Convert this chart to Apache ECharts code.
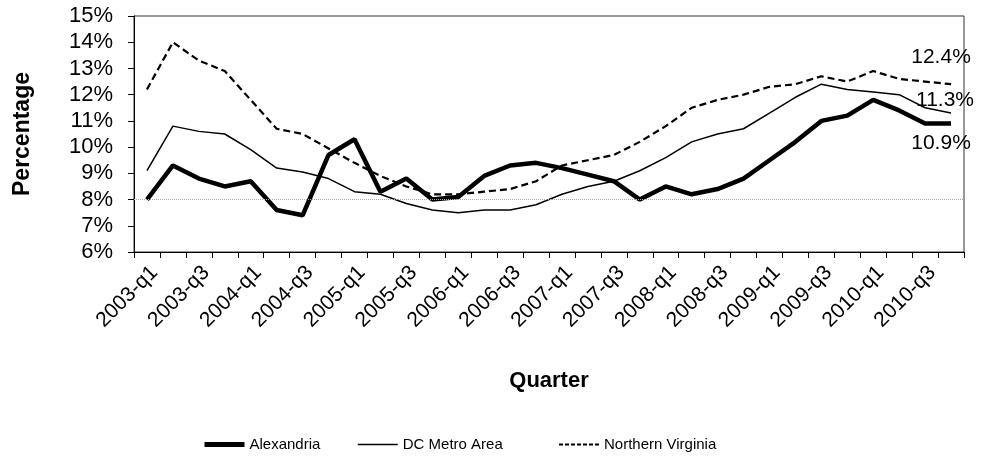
<!DOCTYPE html>
<html>
<head>
<meta charset="utf-8">
<script src="https://cdn.jsdelivr.net/npm/echarts@6/dist/echarts.min.js"></script>
<style>
  html, body { margin: 0; padding: 0; background: #fff; }
  #chart { width: 989px; height: 462px; }
</style>
</head>
<body>
<div id="chart"></div>
<script>
// Quarterly rates, 2003-q1 .. 2010-q4
const quarters = [
  '2003-q1','2003-q2','2003-q3','2003-q4',
  '2004-q1','2004-q2','2004-q3','2004-q4',
  '2005-q1','2005-q2','2005-q3','2005-q4',
  '2006-q1','2006-q2','2006-q3','2006-q4',
  '2007-q1','2007-q2','2007-q3','2007-q4',
  '2008-q1','2008-q2','2008-q3','2008-q4',
  '2009-q1','2009-q2','2009-q3','2009-q4',
  '2010-q1','2010-q2','2010-q3','2010-q4'
];

const alexandria = [
  8.0, 9.3, 8.8, 8.5,
  8.7, 7.6, 7.4, 9.7,
  10.3, 8.3, 8.8, 8.0,
  8.1, 8.9, 9.3, 9.4,
  9.2, 8.95, 8.7, 8.0,
  8.5, 8.2, 8.4, 8.8,
  9.5, 10.2, 11.0, 11.2,
  11.8, 11.4, 10.9, 10.9
];

const dcMetro = [
  9.1, 10.8, 10.6, 10.5,
  9.9, 9.2, 9.05, 8.8,
  8.3, 8.2, 7.85, 7.6,
  7.5, 7.6, 7.6, 7.8,
  8.2, 8.5, 8.7, 9.1,
  9.6, 10.2, 10.5, 10.7,
  11.3, 11.9, 12.4, 12.2,
  12.1, 12.0, 11.5, 11.3
];

const northernVirginia = [
  12.2, 14.0, 13.3, 12.9,
  11.8, 10.7, 10.5, 9.95,
  9.4, 8.9, 8.5, 8.2,
  8.2, 8.3, 8.4, 8.7,
  9.3, 9.5, 9.7, 10.2,
  10.8, 11.5, 11.8, 12.0,
  12.3, 12.4, 12.7, 12.5,
  12.9, 12.6, 12.5, 12.4
];

const yTicks = { min: 6, max: 15, step: 1 };
const FONT = '"Liberation Sans", Arial, sans-serif';

// value label placed next to the last point of a line
function endLabel(offset) {
  return {
    show: true, distance: 0, align: 'center', verticalAlign: 'middle', offset: offset,
    formatter: p => Number(p.value).toFixed(1) + '%',
    fontFamily: FONT, fontSize: 21, color: '#000'
  };
}

// one legend block per series so each sample sits at its own spot
function legendAt(left, name, lineStyle) {
  return {
    left: left, top: 432,
    itemWidth: 40, itemHeight: 14,
    textStyle: { fontFamily: FONT, fontSize: 15, color: '#000' },
    itemStyle: { opacity: 0 },
    data: [{ name: name, lineStyle: lineStyle, itemStyle: { opacity: 0 } }]
  };
}

const chart = echarts.init(document.getElementById('chart'), null, { renderer: 'canvas' });

chart.setOption({
  animation: false,
  backgroundColor: '#fff',
  textStyle: { fontFamily: FONT, color: '#000' },
  grid: {
    left: 134, right: 25, top: 16, bottom: 210,
    show: true, borderColor: '#333', borderWidth: 1, backgroundColor: 'transparent'
  },
  legend: [
    legendAt(197, 'Alexandria', { width: 5, color: '#000', type: 'solid' }),
    legendAt(352, 'DC Metro Area', { width: 1.5, color: '#000', type: 'solid' }),
    legendAt(553, 'Northern Virginia', { width: 2, color: '#000', type: [4, 2] })
  ],
  xAxis: {
    type: 'category',
    data: quarters,
    boundaryGap: true,
    name: 'Quarter',
    nameLocation: 'middle',
    nameGap: 118,
    nameTextStyle: { fontFamily: FONT, fontSize: 22, fontWeight: 'bold', color: '#000' },
    axisLine: { lineStyle: { color: '#000', width: 1 } },
    axisTick: { show: true, alignWithLabel: false, interval: 0, length: 6, lineStyle: { color: '#000' } },
    axisLabel: {
      interval: 1, rotate: 45, margin: 10, verticalAlign: 'top',
      fontFamily: FONT, fontSize: 21, color: '#000'
    },
    splitLine: { show: false }
  },
  yAxis: {
    type: 'value',
    min: yTicks.min, max: yTicks.max, interval: yTicks.step,
    name: 'Percentage',
    nameLocation: 'middle',
    nameRotate: 90,
    nameGap: 100,
    nameTextStyle: { fontFamily: FONT, fontSize: 23, fontWeight: 'bold', color: '#000' },
    axisLine: { show: true, lineStyle: { color: '#000', width: 1 } },
    axisTick: { show: true, length: 6, lineStyle: { color: '#000' } },
    axisLabel: { formatter: '{value}%', fontFamily: FONT, fontSize: 22, color: '#000', margin: 21 },
    splitLine: { show: false }
  },
  series: [
    {
      name: 'Alexandria', type: 'line', symbol: 'none',
      data: alexandria,
      lineStyle: { color: '#000', width: 4.5 },
      itemStyle: { color: '#000' },
      endLabel: endLabel([-10, 20]),
      z: 4,
      markLine: {
        silent: true, symbol: 'none', label: { show: false },
        lineStyle: { color: '#aaa', type: 'dotted', width: 1 },
        data: [{ yAxis: 8 }]
      }
    },
    {
      name: 'DC Metro Area', type: 'line', symbol: 'none',
      data: dcMetro,
      lineStyle: { color: '#000', width: 1.5 },
      itemStyle: { color: '#000' },
      endLabel: endLabel([-6, -13]),
      z: 3
    },
    {
      name: 'Northern Virginia', type: 'line', symbol: 'none',
      data: northernVirginia,
      lineStyle: { color: '#000', width: 2.2, type: [7, 4] },
      itemStyle: { color: '#000' },
      endLabel: endLabel([-10, -27]),
      z: 2
    }
  ]
});
</script>
</body>
</html>
